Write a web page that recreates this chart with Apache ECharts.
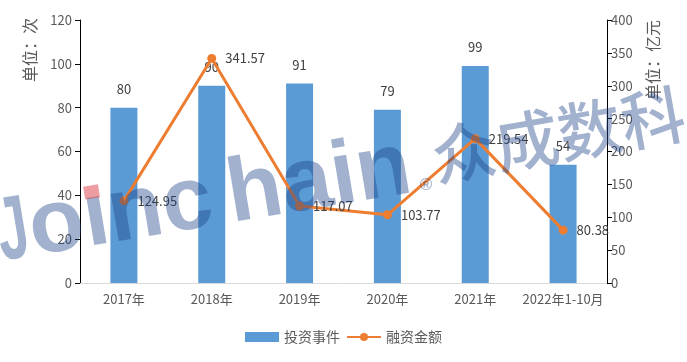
<!DOCTYPE html>
<html><head><meta charset="utf-8">
<script src="https://cdn.jsdelivr.net/npm/echarts@6/dist/echarts.min.js"></script>
<style>html,body{margin:0;padding:0;background:#fff}#c{width:687px;height:362px}</style>
</head><body><div id="c"></div>
<script>
var categories = ['2017年','2018年','2019年','2020年','2021年','2022年1-10月'];
var events = [80, 90, 91, 79, 99, 54];
var amounts = [124.95, 341.57, 117.07, 103.77, 219.54, 80.38];
var leftTicks = [0, 20, 40, 60, 80, 100, 120];
var rightTicks = [0, 50, 100, 150, 200, 250, 300, 350, 400];

var FONT = '"Noto Sans CJK SC","Noto Sans",sans-serif';
var WM = 'rgba(30,65,133,0.41)';
var WMFONT = 'bold 90px "Liberation Sans",sans-serif';
var chart = echarts.init(document.getElementById('c'));
chart.setOption({
  animation: false,
  textStyle: {fontFamily: FONT},
  grid: {left: 80, right: 80, top: 20, bottom: 79},
  legend: {
    bottom: 13, left: 'center', itemGap: 6, itemWidth: 34, itemHeight: 10,
    textStyle: {fontSize: 14, color: '#595959', fontFamily: FONT},
    data: [{name: '投资事件', icon: 'rect'}, {name: '融资金额'}]
  },
  xAxis: {
    type: 'category', data: categories,
    axisLine: {lineStyle: {color: '#d9d9d9', width: 1}},
    axisTick: {show: false},
    axisLabel: {color: '#595959', fontSize: 13, margin: 10, interval: 0}
  },
  yAxis: [{
    type: 'value', min: leftTicks[0], max: leftTicks[leftTicks.length-1], interval: 20,
    axisLine: {show: true, lineStyle: {color: '#000'}},
    axisTick: {show: true, length: 5, lineStyle: {color: '#000'}},
    splitLine: {show: false},
    axisLabel: {color: '#595959', fontSize: 13, margin: 8}
  }, {
    type: 'value', min: rightTicks[0], max: rightTicks[rightTicks.length-1], interval: 50,
    position: 'right',
    axisLine: {show: true, lineStyle: {color: '#000'}},
    axisTick: {show: true, length: 5, lineStyle: {color: '#000'}},
    splitLine: {show: false},
    axisLabel: {color: '#595959', fontSize: 13, margin: 4}
  }],
  series: [{
    name: '投资事件', type: 'bar', data: events, barWidth: 27, yAxisIndex: 0,
    itemStyle: {color: '#5B9BD5'},
    label: {show: true, position: 'top', distance: 12, color: '#404040', fontSize: 13}
  }, {
    name: '融资金额', type: 'line', data: amounts, yAxisIndex: 1,
    symbol: 'circle', symbolSize: 9,
    lineStyle: {color: '#ED7D31', width: 3},
    itemStyle: {color: '#ED7D31'},
    label: {show: true, position: 'right', distance: 9, color: '#404040', fontSize: 13}
  }],
  graphic: [
    {type: 'text', left: 22, top: 18, rotation: Math.PI/2,
     style: {text: '单位：次', fill: '#595959', font: '16px ' + FONT}},
    {type: 'text', left: 645, top: 20, rotation: Math.PI/2,
     style: {text: '单位：亿元', fill: '#595959', font: '16px ' + FONT}},
    {type: 'group', x: 0, y: 266, rotation: 0.165, z: 100, silent: true, children: [
      {type: 'text', x: 3, y: -30, scaleX: 0.62, z: 100,
       style: {text: 'J', fill: WM, align: 'left', verticalAlign: 'middle', font: WMFONT}},
      {type: 'text', x: 35, y: -30, z: 100,
       style: {text: 'o\u0131nc', fill: WM, align: 'left', verticalAlign: 'middle', font: WMFONT}},
      {type: 'text', x: 236, y: -30, z: 100,
       style: {text: 'hain', fill: WM, align: 'left', verticalAlign: 'middle', font: WMFONT}},
      {type: 'rect', z: 101, shape: {x: 95, y: -64.5, width: 15, height: 13},
       style: {fill: 'rgba(220,60,70,0.5)'}}
    ]},
    {type: 'text', x: 426, y: 185, z: 100, silent: true,
     style: {text: '®', fill: WM, align: 'center', verticalAlign: 'middle',
             font: 'bold 17px "Liberation Sans",sans-serif'}},
    {type: 'text', x: 438, y: 189, rotation: 0.178, z: 100, silent: true,
     style: {text: '众成数科', fill: WM, align: 'left', verticalAlign: 'bottom',
             font: '500 64px "Noto Sans CJK SC",sans-serif'}}
  ]
});
</script></body></html>
